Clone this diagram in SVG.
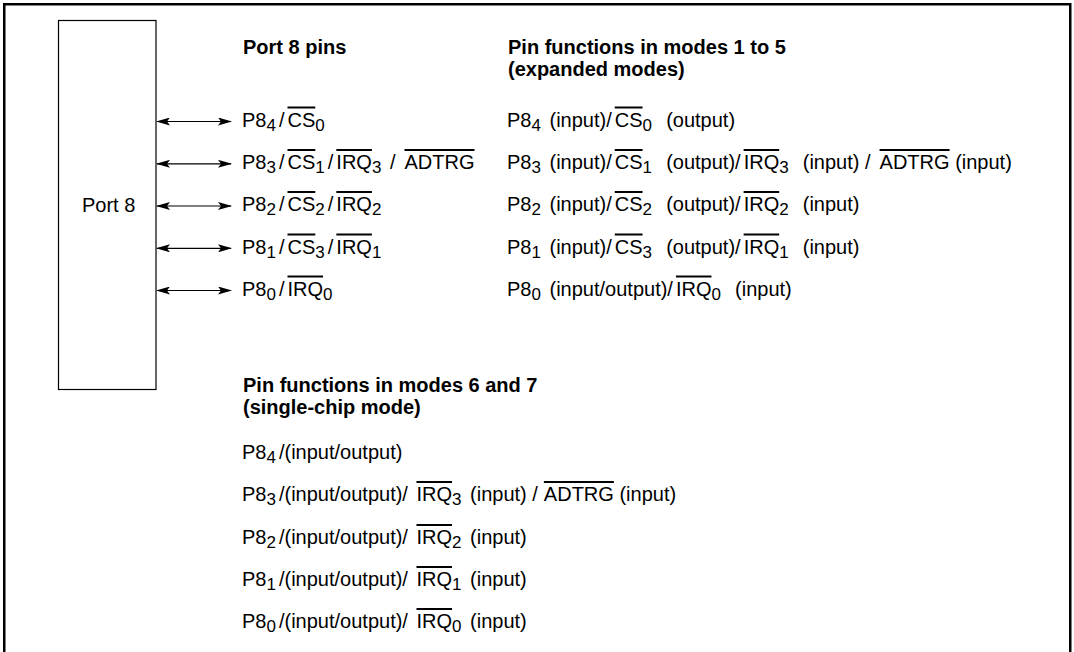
<svg xmlns="http://www.w3.org/2000/svg" width="1074" height="652" viewBox="0 0 1074 652">
<style>
text{font-family:"Liberation Sans",Arial,sans-serif;font-size:20px;fill:#000}
.b{font-weight:bold}
.s{font-size:17px}
.o{text-decoration:overline}
</style>
<defs>
<marker id="ah" viewBox="0 0 14 8" refX="13" refY="4" markerWidth="14" markerHeight="8" markerUnits="userSpaceOnUse" orient="auto-start-reverse">
<path d="M0,0 L14,4 L0,8 L3,4 Z" fill="#000"/>
</marker>
</defs>
<rect x="4.25" y="4.25" width="1066" height="700" fill="none" stroke="#000" stroke-width="2.5"/>
<g id="port8">
<rect x="58.5" y="20.5" width="97.5" height="369" fill="#fff" stroke="#000" stroke-width="1.2"/>
<text x="82" y="212">Port 8</text>
</g>
<g id="connectors" stroke="#000" stroke-width="1.2" fill="none">
<line x1="157" y1="121.5" x2="231" y2="121.5" marker-start="url(#ah)" marker-end="url(#ah)"/>
<line x1="157" y1="163.8" x2="231" y2="163.8" marker-start="url(#ah)" marker-end="url(#ah)"/>
<line x1="157" y1="206" x2="231" y2="206" marker-start="url(#ah)" marker-end="url(#ah)"/>
<line x1="157" y1="248.3" x2="231" y2="248.3" marker-start="url(#ah)" marker-end="url(#ah)"/>
<line x1="157" y1="290.5" x2="231" y2="290.5" marker-start="url(#ah)" marker-end="url(#ah)"/>
</g>
<g id="pins">
<text class="b" x="243" y="54">Port 8 pins</text>
<text x="242" y="126.5" xml:space="preserve">P8<tspan class="s" dy="4">4</tspan><tspan dy="-4" dx="3">/</tspan><tspan class="o" dx="3">CS</tspan><tspan class="s" dy="4">0</tspan></text>
<text x="242" y="169" xml:space="preserve">P8<tspan class="s" dy="4">3</tspan><tspan dy="-4" dx="3">/</tspan><tspan class="o" dx="3">CS</tspan><tspan class="s" dy="4">1</tspan><tspan dy="-4" dx="3">/</tspan><tspan class="o" dx="3">IRQ</tspan><tspan class="s" dy="4">3</tspan><tspan dy="-4" dx="3"> /</tspan><tspan class="o" dx="9">ADTRG</tspan></text>
<text x="242" y="211" xml:space="preserve">P8<tspan class="s" dy="4">2</tspan><tspan dy="-4" dx="3">/</tspan><tspan class="o" dx="3">CS</tspan><tspan class="s" dy="4">2</tspan><tspan dy="-4" dx="3">/</tspan><tspan class="o" dx="3">IRQ</tspan><tspan class="s" dy="4">2</tspan></text>
<text x="242" y="253.5" xml:space="preserve">P8<tspan class="s" dy="4">1</tspan><tspan dy="-4" dx="3">/</tspan><tspan class="o" dx="3">CS</tspan><tspan class="s" dy="4">3</tspan><tspan dy="-4" dx="3">/</tspan><tspan class="o" dx="3">IRQ</tspan><tspan class="s" dy="4">1</tspan></text>
<text x="242" y="295.5" xml:space="preserve">P8<tspan class="s" dy="4">0</tspan><tspan dy="-4" dx="3">/</tspan><tspan class="o" dx="3">IRQ</tspan><tspan class="s" dy="4">0</tspan></text>
</g>
<g id="expanded">
<text class="b" x="508" y="54">Pin functions in modes 1 to 5</text>
<text class="b" x="508" y="76">(expanded modes)</text>
<text x="507" y="126.5" xml:space="preserve">P8<tspan class="s" dy="4">4</tspan><tspan dy="-4" dx="3"> (input)/</tspan><tspan class="o" dx="3">CS</tspan><tspan class="s" dy="4">0</tspan><tspan dy="-4" dx="3">  (output)</tspan></text>
<text x="507" y="169" xml:space="preserve">P8<tspan class="s" dy="4">3</tspan><tspan dy="-4" dx="3"> (input)/</tspan><tspan class="o" dx="3">CS</tspan><tspan class="s" dy="4">1</tspan><tspan dy="-4" dx="3">  (output)/</tspan><tspan class="o" dx="3">IRQ</tspan><tspan class="s" dy="4">3</tspan><tspan dy="-4" dx="3">  (input) /</tspan><tspan class="o" dx="9">ADTRG</tspan><tspan> (input)</tspan></text>
<text x="507" y="211" xml:space="preserve">P8<tspan class="s" dy="4">2</tspan><tspan dy="-4" dx="3"> (input)/</tspan><tspan class="o" dx="3">CS</tspan><tspan class="s" dy="4">2</tspan><tspan dy="-4" dx="3">  (output)/</tspan><tspan class="o" dx="3">IRQ</tspan><tspan class="s" dy="4">2</tspan><tspan dy="-4" dx="3">  (input)</tspan></text>
<text x="507" y="253.5" xml:space="preserve">P8<tspan class="s" dy="4">1</tspan><tspan dy="-4" dx="3"> (input)/</tspan><tspan class="o" dx="3">CS</tspan><tspan class="s" dy="4">3</tspan><tspan dy="-4" dx="3">  (output)/</tspan><tspan class="o" dx="3">IRQ</tspan><tspan class="s" dy="4">1</tspan><tspan dy="-4" dx="3">  (input)</tspan></text>
<text x="507" y="295.5" xml:space="preserve">P8<tspan class="s" dy="4">0</tspan><tspan dy="-4" dx="3"> (input/output)/</tspan><tspan class="o" dx="3">IRQ</tspan><tspan class="s" dy="4">0</tspan><tspan dy="-4" dx="3">  (input)</tspan></text>
</g>
<g id="single">
<text class="b" x="243" y="392">Pin functions in modes 6 and 7</text>
<text class="b" x="243" y="414">(single-chip mode)</text>
<text x="242" y="459" xml:space="preserve">P8<tspan class="s" dy="4">4</tspan><tspan dy="-4" dx="3">/(input/output)</tspan></text>
<text x="242" y="501" xml:space="preserve">P8<tspan class="s" dy="4">3</tspan><tspan dy="-4" dx="3">/(input/output)/ </tspan><tspan class="o" dx="3">IRQ</tspan><tspan class="s" dy="4">3</tspan><tspan dy="-4" dx="3"> (input) /</tspan><tspan class="o" dx="6">ADTRG</tspan><tspan> (input)</tspan></text>
<text x="242" y="544" xml:space="preserve">P8<tspan class="s" dy="4">2</tspan><tspan dy="-4" dx="3">/(input/output)/ </tspan><tspan class="o" dx="3">IRQ</tspan><tspan class="s" dy="4">2</tspan><tspan dy="-4" dx="3"> (input)</tspan></text>
<text x="242" y="586" xml:space="preserve">P8<tspan class="s" dy="4">1</tspan><tspan dy="-4" dx="3">/(input/output)/ </tspan><tspan class="o" dx="3">IRQ</tspan><tspan class="s" dy="4">1</tspan><tspan dy="-4" dx="3"> (input)</tspan></text>
<text x="242" y="628" xml:space="preserve">P8<tspan class="s" dy="4">0</tspan><tspan dy="-4" dx="3">/(input/output)/ </tspan><tspan class="o" dx="3">IRQ</tspan><tspan class="s" dy="4">0</tspan><tspan dy="-4" dx="3"> (input)</tspan></text>
</g>
</svg>
